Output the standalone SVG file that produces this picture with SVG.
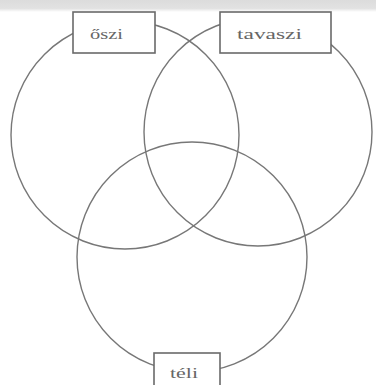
<svg xmlns="http://www.w3.org/2000/svg" width="376" height="385" viewBox="0 0 376 385">
<defs>
<linearGradient id="band" x1="0" y1="0" x2="0" y2="1">
<stop offset="0" stop-color="#dcdcdc"/>
<stop offset="0.7" stop-color="#e2e2e2"/>
<stop offset="1" stop-color="#ffffff"/>
</linearGradient>
<style>
.set{fill:none;stroke:#777;stroke-width:1.4}
.box{fill:#fff;stroke:#6a6a6a;stroke-width:1.6}
.lbl{font-family:"Liberation Serif","DejaVu Serif",serif;font-size:15px;fill:#666}
</style>
</defs>
<rect x="0" y="0" width="376" height="385" fill="#fff"/>
<rect x="0" y="0" width="376" height="12" fill="url(#band)"/>
<g id="connectors">
<circle class="set" cx="125" cy="135" r="114"/>
<circle class="set" cx="258" cy="132" r="114"/>
<circle class="set" cx="192" cy="257" r="115"/>
</g>
<g id="oszi">
<rect class="box" x="73" y="12" width="82" height="41"/>
<text class="lbl" x="90" y="39" textLength="33" lengthAdjust="spacingAndGlyphs">őszi</text>
</g>
<g id="tavaszi">
<rect class="box" x="220" y="12" width="111" height="41"/>
<text class="lbl" x="237" y="39" textLength="65" lengthAdjust="spacingAndGlyphs">tavaszi</text>
</g>
<g id="teli">
<rect class="box" x="154" y="353" width="66" height="40"/>
<text class="lbl" x="170" y="378" textLength="28" lengthAdjust="spacingAndGlyphs">téli</text>
</g>
</svg>
